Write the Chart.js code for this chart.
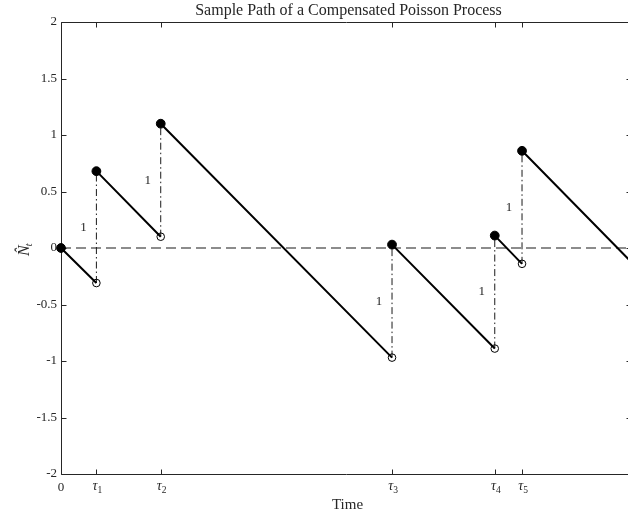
<!DOCTYPE html>
<html>
<head>
<meta charset="utf-8">
<script src="https://cdn.jsdelivr.net/npm/chart.js@4"></script>
<style>
  html, body { margin: 0; padding: 0; background: #fff; overflow: hidden; }
  #wrap { position: absolute; left: 0; top: 0; width: 640px; height: 514px; }
</style>
</head>
<body>
<div id="wrap"><canvas id="pathChart"></canvas></div>
<script>
// Arrival times of the process and the path value on either side of each jump
const jumpTimes = [0.318, 0.896, 2.974, 3.897, 4.142];
const beforeJump = [-0.31, 0.10, -0.97, -0.89, -0.14];
const afterJump = [0.68, 1.10, 0.03, 0.11, 0.86];
const startValue = 0;
const endTime = 5.13;
const endValue = -0.13;
const jumpLabel = '1';

const yTicks = [-2, -1.5, -1, -0.5, 0, 0.5, 1, 1.5, 2];
const yTickLabels = ['-2', '-1.5', '-1', '-0.5', '0', '0.5', '1', '1.5', '2'];
const xTicks = [0, ...jumpTimes];
const xTickLabels = ['0', 'τ1', 'τ2', 'τ3', 'τ4', 'τ5'];

const titleText = 'Sample Path of a Compensated Poisson Process';
const xTitle = 'Time';

const ink = '#262626';
const serif = '"Liberation Serif", "DejaVu Serif", serif';

// path: straight drift segments between jumps, broken with a gap at each jump
const pathData = [];
let prevT = 0, prevV = startValue;
jumpTimes.forEach((t, i) => {
  pathData.push({ x: prevT, y: prevV }, { x: t, y: beforeJump[i] }, { x: t, y: null });
  prevT = t; prevV = afterJump[i];
});
pathData.push({ x: prevT, y: prevV }, { x: endTime, y: endValue });

// vertical jump connectors
const jumpData = [];
jumpTimes.forEach((t, i) => {
  jumpData.push({ x: t, y: beforeJump[i] }, { x: t, y: afterJump[i] }, { x: t, y: null });
});

const filledPts = [{ x: 0, y: startValue }, ...jumpTimes.map((t, i) => ({ x: t, y: afterJump[i] }))];
const openPts = jumpTimes.map((t, i) => ({ x: t, y: beforeJump[i] }));

const framePlugin = {
  id: 'frame',
  beforeDatasetsDraw(chart) {
    const { ctx, chartArea: a, scales: { x, y } } = chart;
    const L = Math.round(a.left) + 0.5, R = Math.round(a.right) - 0.5;
    const T = Math.round(a.top) + 0.5, B = Math.round(a.bottom) + 0.5;
    ctx.save();
    ctx.strokeStyle = ink;
    ctx.lineWidth = 1;
    ctx.beginPath();
    ctx.rect(L, T, R - L, B - T);
    yTicks.forEach(v => {
      const py = Math.round(y.getPixelForValue(v)) + 0.5;
      ctx.moveTo(L, py); ctx.lineTo(L + 5, py);
      ctx.moveTo(R, py); ctx.lineTo(R - 5, py);
    });
    xTicks.forEach(v => {
      const px = Math.round(x.getPixelForValue(v)) + 0.5;
      ctx.moveTo(px, B); ctx.lineTo(px, B - 5);
      ctx.moveTo(px, T); ctx.lineTo(px, T + 5);
    });
    ctx.stroke();
    ctx.restore();
  },
  afterDraw(chart) {
    const { ctx, chartArea: a, scales: { x, y } } = chart;
    ctx.save();
    ctx.fillStyle = ink;

    // y tick labels
    ctx.font = '13px ' + serif;
    ctx.textAlign = 'right';
    ctx.textBaseline = 'middle';
    yTicks.forEach((v, i) => ctx.fillText(yTickLabels[i], a.left - 4, y.getPixelForValue(v)));

    // x tick labels, tau with a numeric subscript
    ctx.textBaseline = 'alphabetic';
    xTicks.forEach((v, i) => {
      const px = x.getPixelForValue(v);
      const lbl = xTickLabels[i];
      if (lbl.length === 1) {
        ctx.font = '13px ' + serif;
        ctx.textAlign = 'center';
        ctx.fillText(lbl, px, 491);
        return;
      }
      ctx.font = 'italic 14px ' + serif;
      const w1 = ctx.measureText(lbl[0]).width;
      ctx.font = '9.5px ' + serif;
      const w2 = ctx.measureText(lbl.slice(1)).width;
      const x0 = px - (w1 + w2) / 2 + 1;
      ctx.textAlign = 'left';
      ctx.font = 'italic 14px ' + serif;
      ctx.fillText(lbl[0], x0, 490);
      ctx.font = '9.5px ' + serif;
      ctx.fillText(lbl.slice(1), x0 + w1, 493);
    });

    // jump size annotations
    ctx.font = '13px ' + serif;
    ctx.textAlign = 'center';
    ctx.textBaseline = 'middle';
    jumpTimes.forEach((t, i) => {
      const mid = (beforeJump[i] + afterJump[i]) / 2;
      ctx.fillText(jumpLabel, x.getPixelForValue(t) - 13, y.getPixelForValue(mid));
    });

    // title and axis labels
    const cx = (a.left + 632) / 2;
    ctx.textBaseline = 'alphabetic';
    ctx.font = '16px ' + serif;
    ctx.fillText(titleText, cx + 2, 15);
    ctx.font = '15px ' + serif;
    ctx.fillText(xTitle, cx + 1, 509);

    ctx.translate(25, y.getPixelForValue(0));
    ctx.rotate(-Math.PI / 2);
    ctx.textAlign = 'left';
    ctx.font = 'italic 16px ' + serif;
    ctx.fillText('N\u0302', -8, 4);
    const wN = ctx.measureText('N').width;
    ctx.font = 'italic 10px ' + serif;
    ctx.fillText('t', -8 + wN - 1, 7);
    ctx.restore();
  }
};

new Chart(document.getElementById('pathChart'), {
  type: 'scatter',
  data: {
    datasets: [
      {
        data: filledPts, showLine: false, clip: false, order: 0,
        pointRadius: 4.4, pointBackgroundColor: '#000', pointBorderColor: '#000', pointBorderWidth: 1
      },
      {
        data: openPts, showLine: false, clip: false, order: 1,
        pointRadius: 3.8, pointBackgroundColor: 'rgba(0,0,0,0)', pointBorderColor: '#000', pointBorderWidth: 1
      },
      {
        data: pathData, showLine: true, spanGaps: false, order: 2,
        borderColor: '#000', borderWidth: 2, pointRadius: 0
      },
      {
        data: jumpData, showLine: true, spanGaps: false, order: 3,
        borderColor: '#1a1a1a', borderWidth: 1, borderDash: [7, 3, 1.5, 3], pointRadius: 0
      },
      {
        data: [{ x: 0, y: 0 }, { x: endTime, y: 0 }], showLine: true, order: 4,
        borderColor: '#1a1a1a', borderWidth: 1.2, borderDash: [10, 5], pointRadius: 0
      }
    ]
  },
  options: {
    responsive: true,
    maintainAspectRatio: false,
    animation: false,
    layout: { padding: { left: 61, right: 8, top: 22, bottom: 40 } },
    plugins: { legend: { display: false }, tooltip: { enabled: false } },
    scales: {
      x: { type: 'linear', min: 0, max: endTime, display: false },
      y: { type: 'linear', min: -2, max: 2, display: false }
    }
  },
  plugins: [framePlugin]
});
</script>
</body>
</html>
